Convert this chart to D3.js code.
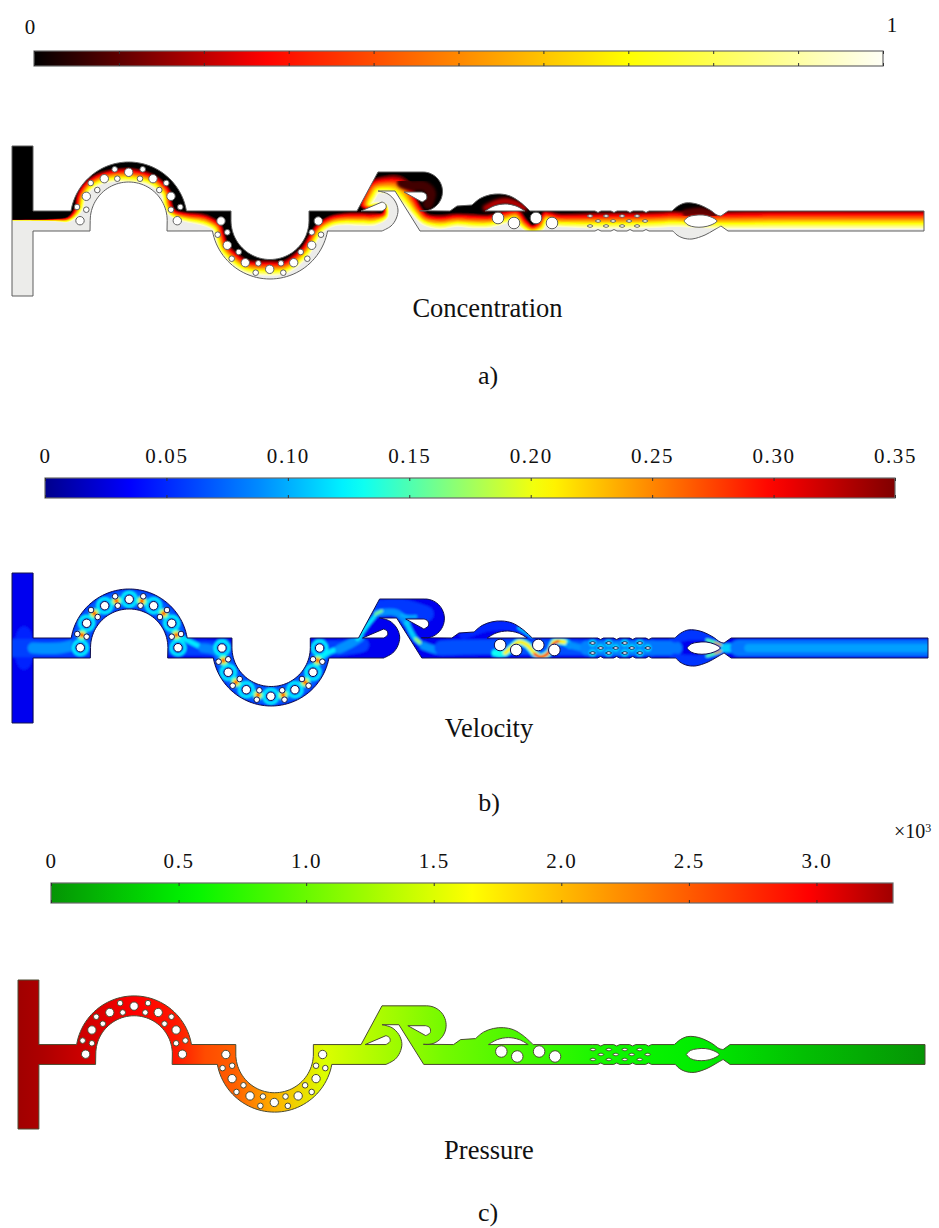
<!DOCTYPE html>
<html>
<head>
<meta charset="utf-8">
<script src="https://cdn.jsdelivr.net/npm/d3@7"></script>
<style>
  html, body { margin: 0; background: #fff; }
  text { font-family: "Liberation Serif", serif; fill: #111; }
</style>
</head>
<body>
<div id="chart"></div>
<script>
const width = 939
const height = 1228

// color bars
const concTicks = [0, 0.1, 0.2, 0.3, 0.4, 0.5, 0.6, 0.7, 0.8, 0.9, 1]
const concStops = [0, 0.27, 0.7, 1]
const concColors = ['#000000', '#ff0000', '#ffff00', '#fffff6']
const velTicks = [0, 0.05, 0.1, 0.15, 0.2, 0.25, 0.3, 0.35]
const velLabels = ['0', '0.05', '0.10', '0.15', '0.20', '0.25', '0.30', '0.35']
const velStopValues = [0, 0.035, 0.09, 0.127, 0.165, 0.205, 0.3, 0.35]
const velColors = ['#00008c', '#0000ff', '#0090ff', '#00ffff', '#80ff80', '#ffff00', '#ff0000', '#800000']
const presTicks = [0, 0.5, 1, 1.5, 2, 2.5, 3]
const presLabels = ['0', '0.5', '1.0', '1.5', '2.0', '2.5', '3.0']
const presStops = [0, 0.55, 1.65, 2.97, 3.3]
const presColors = ['#059405', '#00f500', '#ffff00', '#ff0000', '#a00000']

// chip geometry, in chip units
const deg = Math.PI / 180
function arcPts(cx, cy, r, a0, a1, n) {
  return d3.range(n + 1).map(i => {
    const a = a0 + (a1 - a0) * i / n
    return [cx + r * Math.cos(a), cy + r * Math.sin(a)]
  })
}
// [smooth?, points]
const outline = [
  [false, [[12, 146], [33, 146], [33, 211], [71, 211]]],
  [false, arcPts(128.7, 220.5, 58.5, -170.6 * deg, -9.4 * deg, 48)],
  [false, [[231, 211]]],
  [false, arcPts(270, 220.5, 39, 180 * deg, 0, 48)],
  [false, [[309, 211], [357, 211], [378, 172], [423, 172]]],
  [false, arcPts(423, 191.5, 19.5, -90 * deg, 100 * deg, 30)],
  [false, [[450, 211], [457, 206], [472, 205]]],
  [true, [[472, 205], [480, 198.5], [490, 194.8], [500, 194], [510, 196], [520, 202], [530, 211]]],
  [false, [[590, 211], [595, 211], [598, 212.5], [601, 211], [611, 211], [614, 212.5], [617, 211],
    [627, 211], [630, 212.5], [633, 211], [643, 211], [646, 212.5], [649, 211], [672, 211]]],
  [true, [[672, 211], [678, 206], [685, 203], [692, 203], [700, 205], [710, 210], [717, 215], [721, 216]]],
  [false, [[728, 211], [924, 211], [924, 231], [728, 231], [721, 226]]],
  [true, [[721, 226], [714, 230], [705, 235], [692, 239], [683, 238], [677, 235], [673, 231]]],
  [false, [[649, 231], [646, 229.5], [643, 231], [633, 231], [630, 229.5], [627, 231], [617, 231],
    [614, 229.5], [611, 231], [601, 231], [598, 229.5], [595, 231], [420, 231], [395, 191], [378, 191]]],
  [true, [[378, 191], [388, 194], [395, 201], [398, 210], [396, 219], [391, 226], [382, 231]]],
  [false, [[327.5, 231]]],
  [false, arcPts(270, 220.5, 58.5, 10.3 * deg, 169.7 * deg, 48)],
  [false, [[167, 231]]],
  [false, arcPts(128.7, 220.5, 38.5, 0, -180 * deg, 48)],
  [false, [[90, 231], [33, 231], [33, 296], [12, 296]]]
]
const islands = [
  [[false, [[361, 211], [382, 202]]], [true, [[382, 202], [385.5, 204], [386, 208], [382, 211]]]],
  [[false, [[404, 192], [422, 192]]], [true, [[422, 192], [426, 194], [426.5, 199], [422, 202]]]],
  [[true, [[485, 211], [494, 206], [505, 204], [516, 206], [525, 211]]]],
  [[true, [[684, 221], [688, 217], [695, 215.3], [703, 215], [711, 217], [717, 221], [711, 225], [703, 227], [695, 227], [688, 225], [684, 221]]]]
]
const bigHoles = [[80, 220.7], [86.3, 196.3], [104.3, 178.7], [128.7, 172.3], [153, 178.7], [171, 196.3], [177.3, 220.7],
  [221, 221], [227.3, 245.3], [245.3, 262.7], [269.7, 269.3], [293.7, 262.7], [311.7, 245.3], [318.3, 221]]
const smallHoles = [[77, 207], [86.3, 209.7], [90.7, 183], [97.3, 190], [114.7, 169.3], [117.3, 178.7],
  [142.7, 169.3], [140, 178.7], [166.3, 183], [159.3, 190], [180.3, 207], [171, 209.7],
  [227.3, 232.3], [217.7, 234.7], [238.7, 252], [231.7, 258.7], [258.3, 263.3], [255.7, 272.7],
  [281, 263.3], [283.3, 272.7], [300.7, 252], [307.3, 258.7], [311.7, 232.3], [321, 234.7]]
const mixHoles = [[498, 218], [514, 223], [536, 218], [552, 223]]
const microLenses = [[590, 216], [606, 216], [622, 216], [637, 216], [598, 221], [613, 221], [629, 221], [645, 221],
  [590, 226], [606, 226], [622, 226], [637, 226]]

// concentration: the c=0.5 line through the channel [x, y, band width]
const concLine = [[-10, 220, 1], [33, 220, 1.5], [55, 220, 3], [68, 219.5, 6], [75, 214, 8], [79, 207, 10], [81, 197, 11],
  [87, 187, 12], [97, 180, 13], [110, 176, 14], [128.7, 175, 16], [147, 178, 14], [158, 184, 13], [166, 193, 12], [168, 205, 11],
  [173, 213, 10], [186, 217, 11], [200, 219, 13], [207, 221, 13], [217, 227, 12], [220, 236, 12], [224, 248, 13], [234, 258, 14],
  [246, 266, 15], [270, 268, 17], [285, 267, 15], [297, 259, 14], [306, 250, 13], [313, 238, 12], [320, 228, 12], [332, 221, 13],
  [345, 219, 14], [358, 219, 15], [375, 219, 14], [385, 215, 9], [385, 207, 8], [372, 207, 10], [366, 205, 14], [370, 194, 16],
  [375, 187, 17], [385, 185, 20], [396, 186, 24], [404, 192, 24], [411, 202, 17], [417, 211, 14], [425, 219, 14], [440, 222, 16],
  [457, 220, 15], [473, 221, 16], [490, 221, 15], [505, 217, 15], [516, 215, 14], [524, 224, 12], [532, 229, 10], [540, 226, 12],
  [546, 217, 14], [558, 220, 15], [575, 220.5, 16], [600, 220.5, 18], [650, 220, 18], [675, 219, 18], [700, 220, 18],
  [728, 220, 20], [780, 219.5, 21], [850, 219.5, 21], [960, 219.5, 21]]
const concLevels = [0.95, 0.9, 0.85, 0.8, 0.75, 0.7, 0.65, 0.6, 0.55, 0.5, 0.45, 0.4, 0.35, 0.3, 0.25, 0.2, 0.15, 0.1, 0.05, 0]
// dark red glows on top of the black zones [c, stroke, points]
const concGlows = [
  [0.1, 8, [[486, 208], [496, 203], [505, 201], [514, 203], [524, 208]]],
  [0.2, 3.5, [[486, 208], [496, 203], [505, 201], [514, 203], [524, 208]]],
  [0.1, 7, [[686, 213], [700, 211], [714, 214]]],
  [0.07, 10, [[402, 183], [412, 186], [424, 186], [431, 193], [428, 204]]]
]

// velocity: streaks [v, stroke, points]
const velStreaks = [
  [0.06, 18, [[14, 221], [40, 221], [90, 221]]],
  [0.09, 11, [[33, 221], [60, 221], [80, 216]]],
  [0.07, 18, arcPts(128.7, 220.5, 48.5, -180 * deg, 0, 30)],
  [0.07, 18, arcPts(270, 220.5, 48.5, 180 * deg, 0, 30)],
  [0.06, 15, [[170, 221], [195, 221], [225, 222]]],
  [0.06, 15, [[316, 221], [340, 221], [360, 218]]],
  [0.12, 5, [[176, 208], [188, 214], [202, 221]]],
  [0.085, 9, [[202, 221], [215, 224], [224, 233]]],
  [0.12, 5, [[317, 233], [328, 225], [338, 222]]],
  [0.09, 9, [[338, 222], [350, 216], [358, 211]]],
  [0.12, 4, [[356, 212], [366, 198], [376, 186]]],
  [0.056, 16, [[378, 181], [400, 180], [424, 187]]],
  [0.09, 7, [[376, 186], [395, 186], [405, 196]]],
  [0.16, 3, [[374, 187], [380, 184]]],
  [0.1, 3, [[400, 188], [405, 189.5], [414, 189.5]]],
  [0.11, 5, [[405, 196], [413, 211], [422, 219]]],
  [0.17, 3, [[414, 212], [421, 218]]],
  [0.09, 8, [[422, 219], [440, 224], [460, 222]]],
  [0.065, 15, [[440, 221], [480, 220], [590, 221]]],
  [0.05, 9, [[462, 208], [490, 199], [510, 200], [528, 210]]],
  [0.12, 2, [[516, 201], [530, 210]]],
  [0.13, 7, [[493, 226], [503, 226], [510, 220], [517, 215], [525, 218], [532, 226], [538, 230], [547, 225], [552, 215], [562, 215], [567, 218]]],
  [0.21, 4, [[503, 226], [510, 220], [517, 215], [525, 218], [532, 226], [538, 230], [547, 225], [552, 215], [562, 215]]],
  [0.3, 2.5, [[532, 227], [538, 230], [545, 227], [550, 218], [556, 214]]],
  [0.09, 7, [[567, 218], [580, 221], [590, 221]]],
  [0.085, 15, [[585, 221], [650, 221]]],
  [0.08, 15, [[648, 221], [672, 221]]],
  [0.055, 11, [[672, 210], [700, 208], [716, 217]]],
  [0.055, 11, [[672, 232], [700, 233], [716, 225]]],
  [0.15, 3, [[704, 213], [716, 217], [724, 221]]],
  [0.15, 3, [[704, 229], [716, 225], [724, 221]]],
  [0.25, 1.8, [[712, 216], [718, 218]]],
  [0.25, 1.8, [[712, 226], [718, 224]]],
  [0.11, 9, [[722, 221], [745, 221]]],
  [0.08, 16, [[735, 221], [924, 221]]],
  [0.095, 8, [[745, 221], [924, 221]]]
]
const velHot = [[81.6, 208], [94, 186.5], [116, 174], [141.3, 174], [163, 186.5], [175.6, 208],
  [222.5, 233.5], [235, 255.3], [257, 268], [282, 268], [304, 255.3], [316.3, 233.5]]

// pressure along the chip
const presX = [12, 38, 75, 130, 170, 185, 200, 230, 270, 320, 360, 400, 440, 500, 560, 620, 700, 730, 800, 924]
const presP = [3.3, 3.25, 3.15, 2.97, 2.85, 2.72, 2.58, 2.48, 2.05, 1.5, 1.35, 1.2, 1.05, 0.9, 0.75, 0.6, 0.5, 0.42, 0.25, 0]

const concColor = d3.scaleLinear().domain(concStops).range(concColors)
const velColor = d3.scaleLinear().domain(velStopValues).range(velColors)
const presColor = d3.scaleLinear().domain(presStops).range(presColors)

const svg = d3.select('#chart').append('svg').attr('width', width).attr('height', height)
const defs = svg.append('defs')

function blur(id, s) {
  defs.append('filter').attr('id', id).attr('x', '-5%').attr('y', '-5%').attr('width', '110%').attr('height', '110%')
    .append('feGaussianBlur').attr('stdDeviation', s)
}
blur('soft', 0.45)
blur('blurC', 0.7)
blur('blurG', 1.6)
blur('blurV', 1.1)

// builds one path out of straight and smooth runs
function addRuns(p, runs) {
  let first = true
  const ctx = {
    moveTo(x, y) { if (first) { p.moveTo(x, y); first = false } else p.lineTo(x, y) },
    lineTo(x, y) { p.lineTo(x, y) },
    bezierCurveTo(a, b, c, d, e, f) { p.bezierCurveTo(a, b, c, d, e, f) },
    closePath() {}
  }
  runs.forEach(([smooth, pts]) => {
    d3.line().x(d => d[0]).y(d => d[1])
      .curve(smooth ? d3.curveCatmullRom : d3.curveLinear).context(ctx)(pts)
  })
  p.closePath()
}

function chipPath(x, y) {
  const p = d3.path()
  const proj = pts => pts.map(d => [x(d[0]), y(d[1])])
  const k = x(1) - x(0)
  addRuns(p, outline.map(([s, pts]) => [s, proj(pts)]))
  islands.forEach(runs => addRuns(p, runs.map(([s, pts]) => [s, proj(pts)])))
  const circle = (d, r) => {
    p.moveTo(x(d[0]) + r * k, y(d[1]))
    p.arc(x(d[0]), y(d[1]), r * k, 0, 2 * Math.PI)
  }
  bigHoles.forEach(d => circle(d, 4.2))
  smallHoles.forEach(d => circle(d, 2.8))
  mixHoles.forEach(d => circle(d, 5.8))
  microLenses.forEach(d => {
    addRuns(p, [[true, proj([[d[0] - 3, d[1]], [d[0], d[1] - 1.3], [d[0] + 3, d[1]], [d[0], d[1] + 1.3], [d[0] - 3, d[1]]])]])
  })
  return p.toString()
}

function colorBar(id, color, x0, x1, top, bottom, ticks, labels, domainMax) {
  const grad = defs.append('linearGradient').attr('id', id)
  grad.selectAll('stop').data(d3.range(0, 41).map(i => i / 40)).join('stop')
    .attr('offset', d => d)
    .attr('stop-color', d => color(d * domainMax))
  const x = d3.scaleLinear().domain([0, domainMax]).range([x0, x1])
  svg.append('rect').attr('x', x0).attr('y', top).attr('width', x1 - x0).attr('height', bottom - top)
    .attr('fill', `url(#${id})`).attr('stroke', '#6a6a6a').attr('stroke-width', 1.2)
  const axTop = svg.append('g').attr('transform', `translate(0,${top})`)
    .call(d3.axisTop(x).tickValues(ticks).tickSize(-3).tickPadding(15).tickFormat((d, i) => labels ? labels[i] : ''))
  const axBot = svg.append('g').attr('transform', `translate(0,${bottom})`)
    .call(d3.axisBottom(x).tickValues(ticks).tickSize(-3).tickFormat(''))
  ;[axTop, axBot].forEach(a => {
    a.select('.domain').remove()
    a.selectAll('.tick line').attr('stroke', '#333').attr('stroke-width', 1)
  })
  axTop.selectAll('.tick text')
    .style('font-size', '21px').style('letter-spacing', '1.6px')
    .style('font-family', '"Liberation Serif", serif').attr('fill', '#111')
}

function panel(i, xr, yr) {
  const x = d3.scaleLinear().domain([12, 924]).range(xr)
  const y = d3.scaleLinear().domain([146, 296]).range(yr)
  const d = chipPath(x, y)
  defs.append('clipPath').attr('id', 'chip' + i).append('path').attr('d', d).attr('clip-rule', 'evenodd')
  const clip = svg.append('g').attr('clip-path', `url(#chip${i})`)
  return { x, y, d, clip }
}

function stroke(x, y, g, v, w, pts, color) {
  const line = d3.line().x(d => x(d[0])).y(d => y(d[1])).curve(d3.curveCatmullRom)
  g.append('path').attr('d', line(pts)).attr('fill', 'none').attr('stroke', color(v))
    .attr('stroke-width', w).attr('stroke-linecap', 'round').attr('stroke-linejoin', 'round')
}

function edge(d, color) {
  svg.append('path').attr('d', d).attr('fill', 'none').attr('stroke', color)
    .attr('stroke-width', 1).attr('filter', 'url(#soft)')
}

// a) concentration
const a = panel('A', [12, 924], [146, 296])
{
  const g = a.clip.append('g').attr('filter', 'url(#blurC)')
  g.append('rect').attr('x', 0).attr('y', 130).attr('width', width).attr('height', 180).attr('fill', '#ececea')
  const line = d3.line().curve(d3.curveCatmullRom)
  concLevels.forEach(c => {
    const pts = concLine.map((p, j) => {
      const q0 = concLine[Math.max(j - 1, 0)]
      const q1 = concLine[Math.min(j + 1, concLine.length - 1)]
      const len = Math.hypot(q1[0] - q0[0], q1[1] - q0[1]) || 1
      const off = (c - 0.5) * p[2]
      return [a.x(p[0] - off * (q1[1] - q0[1]) / len), a.y(p[1] + off * (q1[0] - q0[0]) / len)]
    })
    g.append('path').attr('d', line(pts) + `L${width + 20},${pts[pts.length - 1][1]}L${width + 20},100L-20,100Z`)
      .attr('fill', concColor(c))
  })
  const glow = a.clip.append('g').attr('filter', 'url(#blurG)')
  concGlows.forEach(([c, w, pts]) => stroke(a.x, a.y, glow, c, w, pts, concColor))
  edge(a.d, '#5f5f5f')
}

// b) velocity
const b = panel('B', [12, 928], [573, 723])
{
  const g = b.clip.append('g').attr('filter', 'url(#blurV)')
  g.append('rect').attr('x', 0).attr('y', 560).attr('width', width).attr('height', 180).attr('fill', velColor(0.03))
  // low speed pocket where the inlets meet
  g.append('ellipse').attr('cx', b.x(24)).attr('cy', b.y(221)).attr('rx', 10).attr('ry', 22).attr('fill', velColor(0.048))
  velStreaks.forEach(([v, w, pts]) => stroke(b.x, b.y, g, v, w, pts, velColor))
  bigHoles.forEach(h => {
    g.append('circle').attr('cx', b.x(h[0])).attr('cy', b.y(h[1])).attr('r', 7)
      .attr('fill', 'none').attr('stroke', velColor(0.125)).attr('stroke-width', 2.8)
  })
  velHot.forEach(h => {
    [[5, 0.15], [3.2, 0.21], [1.9, 0.3]].forEach(([r, v]) => {
      g.append('circle').attr('cx', b.x(h[0])).attr('cy', b.y(h[1])).attr('r', r).attr('fill', velColor(v))
    })
  })
  microLenses.forEach(h => {
    g.append('circle').attr('cx', b.x(h[0])).attr('cy', b.y(h[1])).attr('r', 3.4)
      .attr('fill', velColor(0.115))
  })
  edge(b.d, '#10104e')
}

// c) pressure
const c = panel('C', [18, 925], [980, 1129])
{
  const grad = defs.append('linearGradient').attr('id', 'presAlong')
    .attr('gradientUnits', 'userSpaceOnUse')
    .attr('x1', c.x(12)).attr('x2', c.x(924)).attr('y1', 0).attr('y2', 0)
  grad.selectAll('stop').data(presX).join('stop')
    .attr('offset', d => (d - 12) / 912)
    .attr('stop-color', (d, i) => presColor(presP[i]))
  svg.append('path').attr('d', c.d).attr('fill', 'url(#presAlong)').attr('fill-rule', 'evenodd')
  edge(c.d, '#4a4a32')
}

colorBar('barC', concColor, 34, 883, 51, 66, concTicks, null, 1)
colorBar('barV', velColor, 45, 895, 478, 498, velTicks, velLabels, 0.35)
colorBar('barP', presColor, 51, 893, 883, 903, presTicks, presLabels, 3.3)

const captions = [
  ['0', 30, 34, 21], ['1', 892, 32, 21],
  ['Concentration', 487.5, 317, 26.5], ['a)', 488, 384, 26],
  ['Velocity', 489, 737, 26.5], ['b)', 489, 811, 26],
  ['Pressure', 489, 1159, 26.5], ['c)', 488, 1221, 26]
]
svg.append('g').selectAll('text').data(captions).join('text')
  .attr('x', d => d[1]).attr('y', d => d[2]).attr('text-anchor', 'middle')
  .style('font-size', d => d[3] + 'px').text(d => d[0])

const exp = svg.append('text').attr('x', 894).attr('y', 838).style('font-size', '20px').text('×10')
exp.append('tspan').attr('dy', -6).style('font-size', '12px').text('3')
</script>
</body>
</html>
